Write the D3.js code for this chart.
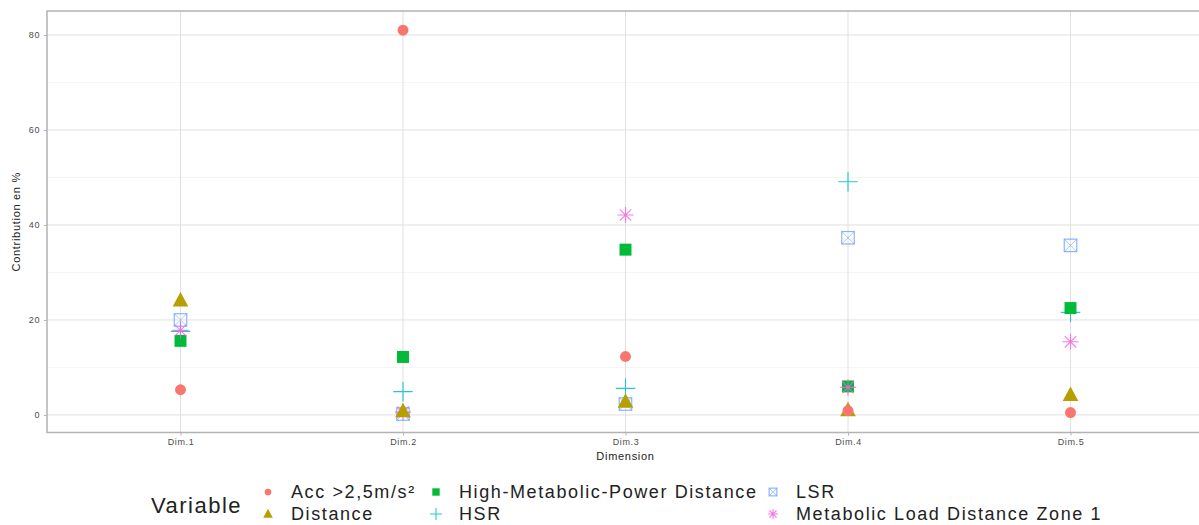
<!DOCTYPE html>
<html>
<head>
<meta charset="utf-8">
<script src="https://cdn.jsdelivr.net/npm/d3@7"></script>
<style>
  body { margin: 0; background: #fff; }
  svg { font-family: "Liberation Sans", Arial, sans-serif; }
</style>
</head>
<body>
<script>
var dims = ["Dim.1", "Dim.2", "Dim.3", "Dim.4", "Dim.5"];
var variables = ["Acc >2,5m/s²", "Distance", "High-Metabolic-Power Distance", "HSR", "LSR", "Metabolic Load Distance Zone 1"];
var colors = ["#F8766D", "#B79F00", "#00BA38", "#00BFC4", "#619CFF", "#F564E3"];
var shapes = ["circle", "triangle", "square", "plus", "squarex", "star"];
var yTicks = [0, 20, 40, 60, 80];
var yMinor = [10, 30, 50, 70];

// contribution (%) per variable, Dim.1 .. Dim.5
var accValues = [5.3, 81.0, 12.3, 0.9, 0.5];
var distanceValues = [24.1, 0.8, 2.8, 1.0, 4.2];
var hmpdValues = [15.6, 12.2, 34.8, 6.0, 22.5];
var hsrValues = [17.6, 4.9, 5.6, 49.1, 21.6];
var lsrValues = [20.0, 0.2, 2.3, 37.3, 35.7];
var mldValues = [17.8, 0.6, 42.1, 5.8, 15.4];

var series = [accValues, distanceValues, hmpdValues, hsrValues, lsrValues, mldValues];
// order in which the layers are stacked (last on top)
var drawOrder = [4, 3, 2, 5, 1, 0];

var width = 1199, height = 525;
var margin = {top: 11, left: 47};
var panelBottom = 432.5, panelRight = 1204;

var svg = d3.select("body").append("svg")
    .attr("width", width)
    .attr("height", height);

var x = d3.scalePoint()
    .domain(dims)
    .range([margin.left, panelRight])
    .padding(0.6);

var y = d3.scaleLinear()
    .domain([-3.7, 85.05])
    .range([panelBottom, margin.top]);

var panel = svg.append("g");

// minor grid
panel.selectAll(".minor")
    .data(yMinor).enter()
    .append("line")
    .attr("x1", margin.left).attr("x2", panelRight)
    .attr("y1", function(d) { return y(d); })
    .attr("y2", function(d) { return y(d); })
    .attr("stroke", "#ececec").attr("stroke-width", 0.6);

// major grid
panel.selectAll(".major")
    .data(yTicks).enter()
    .append("line")
    .attr("x1", margin.left).attr("x2", panelRight)
    .attr("y1", function(d) { return y(d); })
    .attr("y2", function(d) { return y(d); })
    .attr("stroke", "#e0e0e0").attr("stroke-width", 1);

panel.selectAll(".vgrid")
    .data(dims).enter()
    .append("line")
    .attr("x1", function(d) { return x(d); })
    .attr("x2", function(d) { return x(d); })
    .attr("y1", margin.top).attr("y2", panelBottom)
    .attr("stroke", "#e0e0e0").attr("stroke-width", 1);

// axes
var yAxis = svg.append("g")
    .attr("transform", "translate(" + margin.left + ",0)")
    .call(d3.axisLeft(y).tickValues(yTicks).tickSize(3).tickPadding(4));

var xAxis = svg.append("g")
    .attr("transform", "translate(0," + panelBottom + ")")
    .call(d3.axisBottom(x).tickSize(3).tickPadding(3));

[yAxis, xAxis].forEach(function(a) {
    a.select(".domain").remove();
    a.selectAll(".tick line").attr("stroke", "#b3b3b3");
    a.selectAll(".tick text")
        .attr("fill", "#4d4d4d")
        .style("font-size", "9px")
        .style("letter-spacing", "0.6px")
        .style("font-family", "Liberation Sans, Arial, sans-serif");
});

// panel border
svg.append("rect")
    .attr("x", margin.left).attr("y", margin.top)
    .attr("width", panelRight - margin.left)
    .attr("height", panelBottom - margin.top)
    .attr("fill", "none")
    .attr("stroke", "#b3b3b3")
    .attr("stroke-width", 1.5);

// symbol drawing
function drawShape(g, shape, color, s) {
    if (shape === "circle") {
        g.append("circle").attr("r", s * 0.42).attr("fill", color);
    } else if (shape === "triangle") {
        var h = s * 1.05, w = s * 1.2;
        g.append("path")
            .attr("d", "M0," + (-h * 0.62) + "L" + (w / 2) + "," + (h * 0.45) + "L" + (-w / 2) + "," + (h * 0.45) + "Z")
            .attr("fill", color);
    } else if (shape === "square") {
        g.append("rect").attr("x", -s * 0.46).attr("y", -s * 0.46)
            .attr("width", s * 0.92).attr("height", s * 0.92).attr("fill", color);
    } else if (shape === "plus") {
        var p = s * 0.75;
        g.append("path")
            .attr("d", "M" + (-p) + ",0H" + p + "M0," + (-p) + "V" + p)
            .attr("stroke", color).attr("stroke-width", 1.1).attr("opacity", 0.85).attr("fill", "none");
    } else if (shape === "squarex") {
        var q = s * 0.48;
        g.append("rect").attr("x", -q).attr("y", -q).attr("width", 2 * q).attr("height", 2 * q)
            .attr("fill", "none").attr("stroke", color).attr("stroke-width", 1.2).attr("opacity", 0.75);
        g.append("path")
            .attr("d", "M" + (-q) + "," + (-q) + "L" + q + "," + q + "M" + q + "," + (-q) + "L" + (-q) + "," + q)
            .attr("stroke", color).attr("stroke-width", 1).attr("opacity", 0.55);
    } else if (shape === "star") {
        var r = s * 0.62;
        var d = "";
        [0, 45, 90, 135].forEach(function(a) {
            var rad = a * Math.PI / 180;
            d += "M" + (-r * Math.cos(rad)) + "," + (-r * Math.sin(rad)) + "L" + (r * Math.cos(rad)) + "," + (r * Math.sin(rad));
        });
        g.append("path").attr("d", d)
            .attr("stroke", color).attr("stroke-width", 1.1).attr("opacity", 0.85).attr("fill", "none");
    }
}

// points
var points = [];
drawOrder.forEach(function(i) {
    dims.forEach(function(dm, j) {
        points.push({dim: dm, i: i, value: series[i][j]});
    });
});

var pts = svg.append("g");
points.forEach(function(p) {
    var g = pts.append("g")
        .attr("transform", "translate(" + x(p.dim) + "," + y(p.value) + ")");
    drawShape(g, shapes[p.i], colors[p.i], 13);
});

// axis titles
svg.append("text")
    .attr("x", x("Dim.3")).attr("y", 460)
    .attr("text-anchor", "middle")
    .style("font-size", "11px")
    .style("letter-spacing", "0.7px")
    .attr("fill", "#222")
    .text("Dimension");

svg.append("text")
    .attr("transform", "translate(20," + ((margin.top + panelBottom) / 2) + ") rotate(-90)")
    .attr("text-anchor", "middle")
    .style("font-size", "11px")
    .style("letter-spacing", "0.7px")
    .attr("fill", "#222")
    .text("Contribution en %");

// legend
var legend = svg.append("g");
legend.append("text")
    .attr("x", 151).attr("y", 513)
    .style("font-size", "22px")
    .style("letter-spacing", "1.5px")
    .attr("fill", "#222")
    .text("Variable");

var colX = [268, 436, 773];
variables.forEach(function(v, i) {
    var col = Math.floor(i / 2), row = i % 2;
    var ky = 492 + row * 22;
    var g = legend.append("g")
        .attr("transform", "translate(" + colX[col] + "," + ky + ")");
    drawShape(g, shapes[i], colors[i], 8);
    legend.append("text")
        .attr("x", colX[col] + 23).attr("y", ky + 6)
        .style("font-size", "18px")
        .style("letter-spacing", "1.6px")
        .attr("fill", "#222")
        .text(v);
});
</script>
</body>
</html>
